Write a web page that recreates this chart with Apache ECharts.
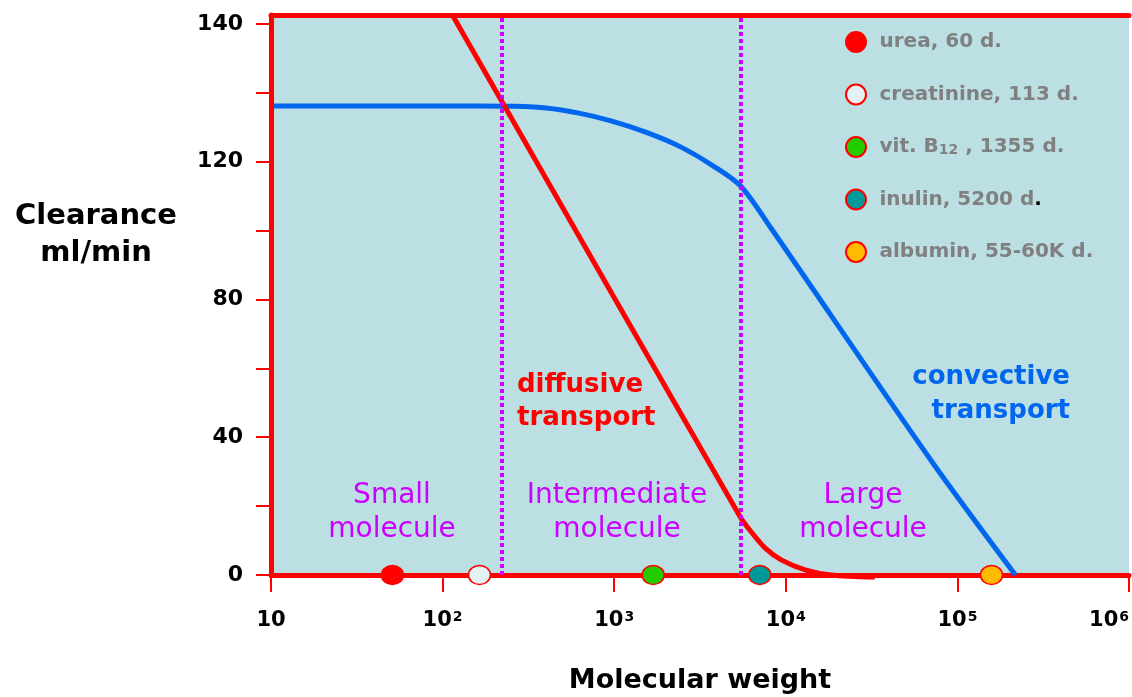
<!DOCTYPE html>
<html><head><meta charset="utf-8">
<script src="https://cdn.jsdelivr.net/npm/echarts@6/dist/echarts.min.js"></script>
<style>html,body{margin:0;padding:0;background:#fff}#c{width:1132px;height:697px}</style>
</head><body><div id="c"></div>
<script>
// ---- data ----
const mwTicks = [10, 100, 1000, 10000, 100000, 1000000];
const clearanceTickValues = [0, 20, 40, 60, 80, 100, 120, 140, 160];
const clearanceLabelValues = [0, 40, 80, 120, 160];
const clearanceLabelText = ['0', '40', '80', '120', '140'];

const diffusiveMW = [114, 5436, 6295, 7590, 9400, 12960, 18350, 33000];
const diffusiveClearance = [162.6, 16.8, 12.5, 7.8, 4.4, 1.5, 0, -0.6];

const convectiveMW = [10, 164, 254, 401, 623, 969, 1526, 2372, 3688, 5436, 8228, 69900, 217800];
const convectiveClearance = [136.2, 136.2, 136.1, 135.6, 134.1, 131.8, 128.6, 124.6, 119.1, 113.0, 100.6, 33.4, 0];

const soluteNames = ['urea, 60 d.', 'creatinine, 113 d.', 'vit. B12 , 1355 d.', 'inulin, 5200 d.', 'albumin, 55-60K d.'];
const soluteMW = [51, 164, 1687, 7054, 158000];
const soluteClearance = [0, 0, 0, 0, 0];
const soluteFill = ['#ff0000', '#e4f1f2', '#22cc00', '#009999', '#ffbb00'];

const boundaryMW = [222, 5436];
const regionNames = ['Small\nmolecule', 'Intermediate\nmolecule', 'Large\nmolecule'];

// ---- chart ----
const FF = '"DejaVu Sans"';
const ellipse = 'path://M0,10A10,10 0 1 1 20,10A10,10 0 1 1 0,10Z';

const chart = echarts.init(document.getElementById('c'), null, { renderer: 'canvas' });

const soluteSeries = soluteNames.map((n, i) => ({
  type: 'scatter', name: n,
  data: [[soluteMW[i], soluteClearance[i]]],
  symbol: ellipse, symbolSize: [22, 19],
  itemStyle: { color: soluteFill[i], borderColor: '#ff0000', borderWidth: 1.5, opacity: 1 },
  z: 6, clip: false, silent: true
}));

function legendText(name) {
  if (name === soluteNames[2]) return '{t|vit. B}{sub|12}{u| , 1355 d.}';
  if (name === soluteNames[3]) return '{t|' + name.slice(0, -1) + '}{k|.}';
  return '{t|' + name + '}';
}

const option = {
  animation: false,
  backgroundColor: '#ffffff',
  textStyle: { fontFamily: 'DejaVu Sans' },
  grid: { left: 271, right: 0, top: 15, bottom: 122, show: true, backgroundColor: '#bbdfe3', borderWidth: 0 },
  xAxis: [{
    type: 'log', logBase: 10, min: mwTicks[0], max: mwTicks[mwTicks.length - 1], position: 'bottom',
    axisLine: { show: true, onZero: false, lineStyle: { color: '#ff0000', width: 5 } },
    axisTick: { show: true, inside: false, length: 17, lineStyle: { color: '#ff0000', width: 2 } },
    minorTick: { show: false },
    splitLine: { show: false },
    axisLabel: {
      margin: 35, fontSize: 21, fontWeight: 'bold', color: '#000', fontFamily: 'DejaVu Sans',
      alignMaxLabel: 'right',
      formatter: v => { const n = Math.round(Math.log10(v)); return n === 1 ? '{b|10}' : '{b|10}{s|' + n + '}'; },
      rich: {
        b: { fontSize: 21, fontWeight: 'bold', color: '#000', fontFamily: 'DejaVu Sans', lineHeight: 22 },
        s: { fontSize: 14, fontWeight: 'bold', color: '#000', fontFamily: 'DejaVu Sans', verticalAlign: 'top', lineHeight: 14, padding: [0, 0, 0, 1] }
      }
    }
  }, {
    type: 'log', logBase: 10, min: mwTicks[0], max: mwTicks[mwTicks.length - 1], position: 'top',
    axisLine: { show: true, onZero: false, lineStyle: { color: '#ff0000', width: 5 } },
    axisTick: { show: false }, axisLabel: { show: false }, splitLine: { show: false }, z: 3
  }],
  yAxis: {
    type: 'value', min: 0, max: 162.6,
    axisLine: { show: true, lineStyle: { color: '#ff0000', width: 5 } },
    axisTick: { show: true, inside: false, length: 15, customValues: clearanceTickValues, lineStyle: { color: '#ff0000', width: 2 } },
    axisLabel: {
      customValues: clearanceLabelValues,
      formatter: v => { const k = clearanceLabelValues.indexOf(v); return k >= 0 ? clearanceLabelText[k] : ''; },
      margin: 28, fontSize: 22, fontWeight: 'bold', color: '#000', fontFamily: 'DejaVu Sans'
    },
    splitLine: { show: false },
    z: 3
  },
  legend: {
    orient: 'vertical', left: 840, top: 26, itemWidth: 23, itemHeight: 20, itemGap: 30.5,
    data: soluteNames, selectedMode: false,
    formatter: legendText,
    textStyle: {
      fontFamily: 'DejaVu Sans', fontWeight: 'bold', fontSize: 20, color: '#808080', lineHeight: 20,
      rich: {
        t: { fontFamily: 'DejaVu Sans', fontWeight: 'bold', fontSize: 20, color: '#808080', lineHeight: 20, padding: [0, 0, 0, 7] },
        u: { fontFamily: 'DejaVu Sans', fontWeight: 'bold', fontSize: 20, color: '#808080', lineHeight: 20 },
        sub: { fontFamily: 'DejaVu Sans', fontWeight: 'bold', fontSize: 14, color: '#808080', lineHeight: 8, verticalAlign: 'bottom' },
        k: { fontFamily: 'DejaVu Sans', fontWeight: 'bold', fontSize: 20, color: '#000000', lineHeight: 20 }
      }
    }
  },
  series: [
    {
      type: 'line', name: 'convective transport',
      data: convectiveMW.map((m, i) => [m, convectiveClearance[i]]),
      symbol: 'none', showSymbol: false, smooth: 0.3,
      lineStyle: { color: '#0066ee', width: 5 }, clip: false, z: 2, silent: true
    },
    {
      type: 'line', name: 'diffusive transport',
      data: diffusiveMW.map((m, i) => [m, diffusiveClearance[i]]),
      symbol: 'none', showSymbol: false, smooth: 0.3,
      lineStyle: { color: '#ff0000', width: 5 }, clip: false, z: 2, silent: true
    },
    {
      type: 'line', name: 'boundaries', data: [], z: 4, silent: true,
      markLine: {
        silent: true, symbol: ['none', 'none'], label: { show: false }, animation: false,
        lineStyle: { color: '#cc00ff', width: 4, type: [4, 3] },
        data: boundaryMW.map(v => ({ xAxis: v }))
      }
    },
    ...soluteSeries
  ],
  graphic: [
    { type: 'text', x: 96, y: 235, style: { text: 'Clearance\nml/min', font: 'bold 29px ' + FF, fill: '#000', textAlign: 'center', textVerticalAlign: 'middle', lineHeight: 37 } },
    { type: 'text', x: 700, y: 681, style: { text: 'Molecular weight', font: 'bold 27px ' + FF, fill: '#000', textAlign: 'center', textVerticalAlign: 'middle' } },
    { type: 'text', x: 392, y: 512.6, z: 10, style: { text: regionNames[0], font: '28px ' + FF, fill: '#cc00ff', textAlign: 'center', textVerticalAlign: 'middle', lineHeight: 34 } },
    { type: 'text', x: 617, y: 512.6, z: 10, style: { text: regionNames[1], font: '28px ' + FF, fill: '#cc00ff', textAlign: 'center', textVerticalAlign: 'middle', lineHeight: 34 } },
    { type: 'text', x: 863, y: 512.6, z: 10, style: { text: regionNames[2], font: '28px ' + FF, fill: '#cc00ff', textAlign: 'center', textVerticalAlign: 'middle', lineHeight: 34 } },
    { type: 'text', x: 517, y: 402, z: 10, style: { text: 'diffusive\ntransport', font: 'bold 26px ' + FF, fill: '#ff0000', textAlign: 'left', textVerticalAlign: 'middle', lineHeight: 33 } },
    { type: 'text', x: 1070, y: 394, z: 10, style: { text: 'convective\ntransport', font: 'bold 26px ' + FF, fill: '#0066ee', textAlign: 'right', textVerticalAlign: 'middle', lineHeight: 34 } }
  ]
};
chart.setOption(option);
</script>
</body></html>
